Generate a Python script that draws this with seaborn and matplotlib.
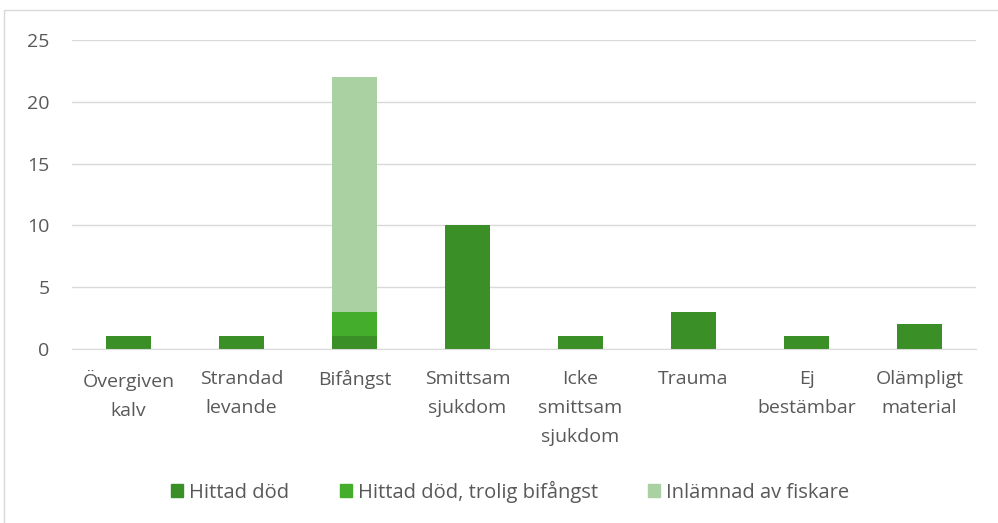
import numpy as np
import pandas as pd
import matplotlib
matplotlib.use("Agg")
import matplotlib.pyplot as plt
import matplotlib.patches as mpatches
import seaborn as sns

categories = ["Övergiven\nkalv", "Strandad\nlevande", "Bifångst", "Smittsam\nsjukdom",
              "Icke\nsmittsam\nsjukdom", "Trauma", "Ej\nbestämbar", "Olämpligt\nmaterial"]
hittad_dod = [1, 1, 1, 10, 1, 3, 1, 2]
trolig_bifangst = [0, 0, 2, 0, 0, 0, 0, 0]
fiskare = [0, 0, 19, 0, 0, 0, 0, 0]

series = ["Hittad död", "Hittad död, trolig bifångst", "Inlämnad av fiskare"]
colors = ["#3a8f27", "#44ad2c", "#a9d1a1"]

sns.set_style("white")
plt.rcParams['font.family'] = ['Open Sans', 'DejaVu Sans']

df = pd.DataFrame({"kat": categories, series[0]: hittad_dod,
                   series[1]: trolig_bifangst, series[2]: fiskare})

fig = plt.figure(figsize=(9.98, 5.23), dpi=100)
ax = fig.add_axes([0.072, 0.333, 0.906, 0.59])

bottom = np.zeros(len(categories))
for name, col in zip(series, colors):
    sns.barplot(data=df, x="kat", y=name, color=col, width=0.4, bottom=bottom,
                ax=ax, label=name, saturation=1, linewidth=0)
    bottom = bottom + df[name].values

ax.set_ylim(0, 25)
ax.set_yticks(range(0, 26, 5))
ax.set_xlim(-0.5, len(categories) - 0.5)
ax.yaxis.grid(True, color="#d9d9d9", linewidth=1)
ax.set_axisbelow(True)
ax.set_xlabel("")
ax.set_ylabel("")
for s in ["top", "right", "left"]:
    ax.spines[s].set_visible(False)
ax.spines["bottom"].set_color("#d9d9d9")
ax.tick_params(axis="both", length=0, labelsize=14, colors="#595959")
ax.tick_params(axis="x", pad=15)
ax.tick_params(axis="y", pad=16)
ax.set_xticks(range(len(categories)))
ax.set_xticklabels(categories, linespacing=1.78)

handles = [mpatches.Patch(color=c, label=n) for n, c in zip(series, colors)]
ax.legend(handles=handles, loc="center", bbox_to_anchor=(0.485, -0.463), ncol=3,
          frameon=False, fontsize=14.5, labelcolor="#595959", handlelength=0.6,
          handleheight=0.6, columnspacing=2.5, handletextpad=0.3)

fig.patches.append(mpatches.Rectangle((4 / 998, -0.1), 1.2, 1 - 10 / 523 + 0.1,
                                      transform=fig.transFigure, fill=False,
                                      edgecolor="#d9d9d9", linewidth=1))

fig.savefig("out.png", dpi=100)
